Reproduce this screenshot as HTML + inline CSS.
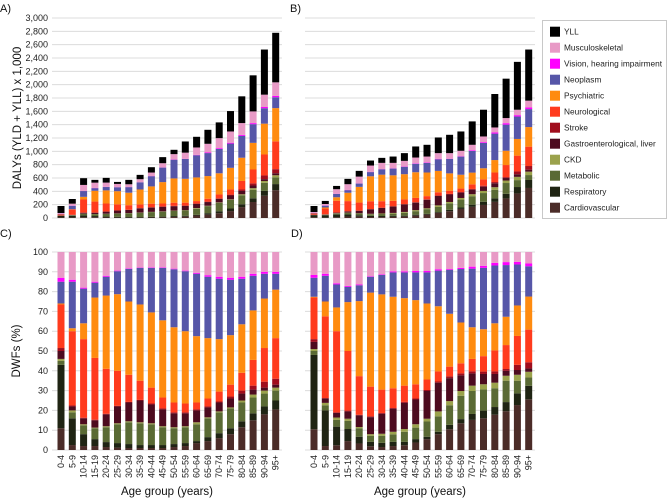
<!DOCTYPE html>
<html><head><meta charset="utf-8"><style>
body{margin:0;background:#fff}
svg{display:block;font-family:"Liberation Sans",sans-serif}
</style></head><body>
<svg id="chart" width="669" height="501" viewBox="0 0 669 501"></svg>
<script>
const ages=["0-4","5-9","10-14","15-19","20-24","25-29","30-34","35-39","40-44","45-49","50-54","55-59","60-64","65-69","70-74","75-79","80-84","85-89","90-94","95+"];
const cats=["Cardiovascular","Respiratory","Metabolic","CKD","Gastroenterological, liver","Stroke","Neurological","Psychiatric","Neoplasm","Vision, hearing  impairment","Musculoskeletal","YLL"];
const colors=["#4b2c28","#1f2413","#5a6a34","#9ba24c","#4d0b1f","#a00d1d","#ff3b1d","#ff8b0f","#5656a8","#ff00ff","#e89ac6","#000000"];
// cumulative % tops per age group (cardio..vision); musculoskeletal tops at 100
const cumC=[
[11,43,45,46,50,51.5,73.5,74,85,87],
[2.5,16,19,20,22,22.5,60,61.5,85,86],
[2,8,12.5,13,16,16.3,56,64,81.5,82],
[2,5.5,11,11.3,15,15.3,46.5,77,84.5,85],
[1.5,4,11.5,12,18,18.3,41,78,87.5,88],
[1.2,3.5,13,13.5,22,22.3,40,78.7,90.3,90.6],
[1,3,14,14.5,24,24.3,38,75,91.5,91.8],
[1,2.5,13.5,14,25,25.3,35,73.5,92,92.2],
[1,2.5,13,13.5,23,23.5,31.5,69.5,92,92.3],
[1,2.5,11.5,12,20.5,21,26.5,65.5,92,92.3],
[1.5,3,11,11.5,18.5,19,24,62,91.3,91.6],
[2,3.5,11.5,12,18.5,19,23.5,60,90.3,90.6],
[3.5,4.5,13,14,20,20.5,24,57.5,89,89.5],
[4.5,6.5,16,16.5,21.5,22,26,56.5,87.5,88.3],
[6,8.5,19,19.5,24,24.5,29.5,56,86.5,87.5],
[8,11,21,21.5,26,27,33,58,86,87],
[11.5,14.5,24,25,28.5,30,39,63.5,86.5,87.5],
[15,18.5,26.5,28,30.5,32.5,45.5,70.5,88,89],
[18,22,28.5,30,31.5,34.5,51.5,76.5,89,90],
[20.5,25,30,31.5,33,36,56.5,81,89,90]];
const cumD=[
[10.5,48,50,51,54.6,56,77,77.4,87,88.4],
[2,20,22.6,23.8,26,26.2,67.5,75,88,89],
[2.4,11.8,15.2,16.4,18.7,19,60,72,83.6,84.2],
[4.5,10.6,14.7,15.8,19.5,19.9,50,74.7,82.4,82.9],
[3.3,6.7,11,11.6,17.5,17.8,37.3,75.2,83.2,83.6],
[1.9,4.1,7.2,8,16.6,17,32,79.5,87.5,87.8],
[1.5,3.6,7.2,8.2,18.3,18.7,30.5,78.6,88.4,88.7],
[2,4.1,7.9,9.2,20.9,21.2,31.2,77.4,89.7,90.2],
[2.4,4.1,9.2,10.6,23.8,24.3,32.5,76.7,89.7,90.2],
[3.8,5.5,11.3,13,25.5,26,33.2,75.7,89.7,90.4],
[5.5,6.7,14.4,15.8,29.8,30.3,35.6,74,89.7,90.4],
[8,9.2,17,19.5,34,34.6,39.7,72.6,90.6,91.3],
[10.5,12.7,22.6,24.7,36.3,37.2,42.1,68.8,91,91.4],
[13.5,15.6,27.4,29.8,37.7,38.7,43.8,64.4,91.4,92],
[15.2,18.2,29.8,32.5,38.7,39.7,46,62,91.6,92.6],
[16,19.9,30.6,33.2,38.4,39.6,47.4,61,92,93],
[17.8,21.7,31.2,34,38.4,39.7,50.3,64,93.2,94.5],
[19.6,24.2,35,37.5,40,40.9,53,67.3,93.4,94.9],
[22.7,28.6,35,38,40.4,43,57.6,73,93.7,95],
[25.6,32.4,36.6,39.5,41.2,44.3,60.8,77.5,92.8,94.2]];
const yldA=[75,215,496,530,531,511,506,582,682,822,958,980,1058,1113,1198,1298,1424,1599,1850,2035];
const yllA=[105,70,101,42,71,30,66,65,80,91,65,168,160,210,236,306,401,541,677,743];
const yldB=[90,210,432,507,621,787,827,827,857,907,922,973,973,1008,1098,1223,1358,1499,1624,1760];
const yllB=[90,46,49,80,86,75,75,95,116,166,176,235,275,290,351,401,502,591,718,767];
const ticksA=[0,200,400,600,800,1000,1200,1400,1600,1800,2000,2200,2400,2600,2800,3000];
const ticksC=[0,10,20,30,40,50,60,70,80,90,100];

const svg=document.getElementById('chart');
const NS="http://www.w3.org/2000/svg";
function mk(tag,attrs,parent){const e=document.createElementNS(NS,tag);for(const k in attrs)e.setAttribute(k,attrs[k]);(parent||svg).appendChild(e);return e;}
function txt(s,attrs,parent){const e=mk('text',attrs,parent);e.textContent=s;return e;}

function panel(name,x0,x1,barX0,yBase,yTop,maxV,ticks,showTickLabels,rows,yld,yll,showAges){
  const g=mk('g',{});
  
  
  const ys=v=>yBase-(v/maxV)*(yBase-yTop);
  const xs=i=>barX0+i*11.3;
  ticks.forEach(t=>{
    const l=mk('line',{x1:x0,x2:x1,y1:ys(t),y2:ys(t),stroke:'#dcdcdc','stroke-width':1},g);
    
    
    if(showTickLabels){
      const tl=txt(t.toLocaleString('en-US'),{x:x0-4,y:ys(t)+3,'font-size':9,'text-anchor':'end',fill:'#222'},g);
      
      
    }
  });
  ages.forEach((a,i)=>{
    const row=rows[i];
    const cum=[0].concat(row).concat([100]);
    const scale=yld?yld[i]/100:1;
    for(let k=0;k<11;k++){
      const lo=cum[k]*scale, hi=cum[k+1]*scale;
      const r=mk('rect',{x:xs(i)-3.5,width:7,y:ys(hi),height:Math.max(0,ys(lo)-ys(hi)),fill:colors[k]},g);
      
      
    }
    if(yll){
      const lo=yld[i], hi=yld[i]+yll[i];
      const r=mk('rect',{x:xs(i)-3.5,width:7,y:ys(hi),height:ys(lo)-ys(hi),fill:colors[11]},g);
      
      
    }
    if(showAges){
      const t=txt(a,{x:0,y:0,'font-size':9,'text-anchor':'end',fill:'#222',transform:`translate(${xs(i)+3},455) rotate(-90)`},g);
      
      
    }
  });
}
panel('panel-a-dalys',52,282,61,218,18,3000,ticksA,true,cumC,yldA,yllA,false);
panel('panel-b-dalys',305,535,314,218,18,3000,ticksA,false,cumD,yldB,yllB,false);
panel('panel-c-dwfs',52,282,61,450,252,100,ticksC,true,cumC,null,null,true);
panel('panel-d-dwfs',305,535,314,450,252,100,ticksC,false,cumD,null,null,true);

[["A)",0,12],["B)",290,12],["C)",0,237],["D)",291,237]].forEach(p=>{
  const t=txt(p[0],{x:p[1],y:p[2],'font-size':11,fill:'#111'});
  
  
});
let t=txt("DALYs (YLD + YLL) x 1,000",{x:0,y:0,'font-size':11.5,'text-anchor':'middle',fill:'#111',transform:'translate(21,118) rotate(-90)'});


t=txt("DWFs (%)",{x:0,y:0,'font-size':11.5,'text-anchor':'middle',fill:'#111',transform:'translate(20,351) rotate(-90)'});


t=txt("Age group (years)",{x:167,y:495,'font-size':11.5,'text-anchor':'middle',fill:'#111'});


t=txt("Age group (years)",{x:420,y:495,'font-size':11.5,'text-anchor':'middle',fill:'#111'});



const lg=mk('g',{});


mk('rect',{x:542.5,y:20.5,width:124,height:198,fill:'#fff',stroke:'#c8c8c8'},lg);
for(let j=0;j<12;j++){
  const k=11-j, cy=31.7+j*16;
  const e=mk('g',{},lg);
  
  
  mk('rect',{x:550,y:cy-5,width:10,height:10,fill:colors[k]},e);
  txt(cats[k],{x:564,y:cy+3,'font-size':8.3,fill:'#222'},e);
}
</script>
</body></html>
